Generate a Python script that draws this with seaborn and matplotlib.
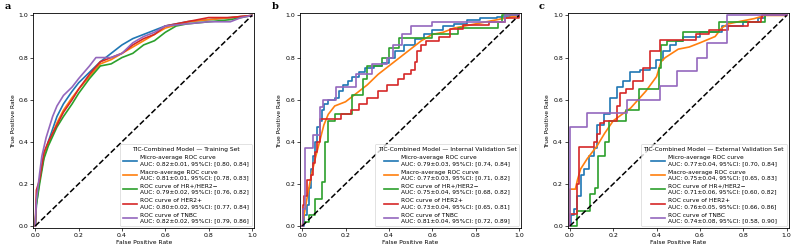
import matplotlib
matplotlib.use("Agg")
import matplotlib.pyplot as plt
import seaborn as sns

# ---- legend text ----
curve_names = ["Micro-average ROC curve", "Macro-average ROC curve",
               "ROC curve of HR+/HER2\u2212", "ROC curve of HER2+", "ROC curve of TNBC"]
panel_titles = ["TIC-Combined Model \u2014 Training Set",
                "TIC-Combined Model \u2014 Internal Validation Set",
                "TIC-Combined Model \u2014 External Validation Set"]
panel_letters = ["a", "b", "c"]

auc_train = [0.82, 0.81, 0.79, 0.80, 0.82]
sd_train = [0.01, 0.01, 0.02, 0.02, 0.02]
ci_lo_train = [0.80, 0.78, 0.76, 0.77, 0.79]
ci_hi_train = [0.84, 0.83, 0.82, 0.84, 0.86]

auc_int = [0.79, 0.77, 0.75, 0.73, 0.81]
sd_int = [0.03, 0.03, 0.04, 0.04, 0.04]
ci_lo_int = [0.74, 0.71, 0.68, 0.65, 0.72]
ci_hi_int = [0.84, 0.82, 0.82, 0.81, 0.89]

auc_ext = [0.77, 0.75, 0.71, 0.76, 0.74]
sd_ext = [0.04, 0.04, 0.06, 0.05, 0.08]
ci_lo_ext = [0.70, 0.65, 0.60, 0.66, 0.58]
ci_hi_ext = [0.84, 0.83, 0.82, 0.86, 0.90]

# ---- training set curves (a) ----
a_micro_fpr = [0, 0.005, 0.02, 0.04, 0.06, 0.1, 0.13, 0.17, 0.2, 0.25, 0.3, 0.35, 0.4, 0.45, 0.5, 0.55, 0.6, 0.7, 0.8, 0.9, 1]
a_micro_tpr = [0, 0.10, 0.22, 0.33, 0.40, 0.52, 0.58, 0.64, 0.68, 0.73, 0.78, 0.82, 0.86, 0.89, 0.91, 0.93, 0.95, 0.97, 0.98, 0.99, 1]
a_macro_fpr = [0, 0.005, 0.02, 0.04, 0.06, 0.1, 0.13, 0.17, 0.2, 0.25, 0.3, 0.35, 0.4, 0.45, 0.5, 0.55, 0.6, 0.7, 0.8, 0.9, 1]
a_macro_tpr = [0, 0.12, 0.22, 0.33, 0.39, 0.49, 0.55, 0.61, 0.65, 0.71, 0.77, 0.79, 0.82, 0.85, 0.88, 0.91, 0.94, 0.97, 0.98, 0.99, 1]
a_hr_fpr = [0, 0.005, 0.02, 0.04, 0.06, 0.1, 0.13, 0.17, 0.2, 0.25, 0.3, 0.35, 0.4, 0.45, 0.5, 0.55, 0.6, 0.65, 0.7, 0.8, 0.9, 1]
a_hr_tpr = [0, 0.10, 0.20, 0.32, 0.38, 0.47, 0.52, 0.58, 0.63, 0.70, 0.76, 0.77, 0.80, 0.82, 0.86, 0.88, 0.92, 0.95, 0.96, 0.97, 0.98, 1]
a_her2_fpr = [0, 0.005, 0.02, 0.04, 0.06, 0.1, 0.13, 0.17, 0.2, 0.25, 0.3, 0.35, 0.4, 0.45, 0.5, 0.55, 0.6, 0.7, 0.8, 0.9, 1]
a_her2_tpr = [0, 0.17, 0.22, 0.35, 0.40, 0.48, 0.54, 0.60, 0.65, 0.72, 0.78, 0.80, 0.82, 0.86, 0.89, 0.91, 0.95, 0.97, 0.99, 0.99, 1]
a_tnbc_fpr = [0, 0.005, 0.02, 0.03, 0.05, 0.08, 0.1, 0.13, 0.17, 0.2, 0.25, 0.28, 0.35, 0.4, 0.45, 0.5, 0.55, 0.6, 0.7, 0.8, 0.9, 0.95, 1]
a_tnbc_tpr = [0, 0.12, 0.25, 0.33, 0.42, 0.52, 0.57, 0.62, 0.66, 0.70, 0.76, 0.80, 0.80, 0.82, 0.87, 0.90, 0.92, 0.95, 0.96, 0.97, 0.97, 0.99, 1]

# ---- internal validation curves (b) ----
b_micro_fpr = [0, 0.01, 0.02, 0.03, 0.04, 0.05, 0.06, 0.07, 0.08, 0.09, 0.1, 0.12, 0.15, 0.17, 0.19, 0.21, 0.23, 0.26, 0.29, 0.33, 0.37, 0.4, 0.43, 0.47, 0.52, 0.56, 0.6, 0.65, 0.7, 0.76, 0.82, 0.9, 0.96, 1]
b_micro_tpr = [0, 0.05, 0.10, 0.18, 0.27, 0.33, 0.40, 0.47, 0.50, 0.55, 0.58, 0.60, 0.61, 0.64, 0.67, 0.69, 0.71, 0.73, 0.75, 0.76, 0.775, 0.80, 0.83, 0.86, 0.89, 0.91, 0.93, 0.95, 0.96, 0.98, 0.99, 0.995, 1, 1]
b_macro_fpr = [0, 0.01, 0.02, 0.04, 0.06, 0.08, 0.1, 0.12, 0.15, 0.2, 0.25, 0.3, 0.35, 0.4, 0.45, 0.5, 0.55, 0.6, 0.65, 0.7, 0.8, 0.9, 1]
b_macro_tpr = [0, 0.06, 0.12, 0.23, 0.32, 0.40, 0.48, 0.53, 0.57, 0.59, 0.63, 0.67, 0.72, 0.76, 0.80, 0.84, 0.88, 0.91, 0.92, 0.94, 0.96, 0.98, 1]
b_hr_fpr = [0, 0.005, 0.03, 0.06, 0.09, 0.105, 0.12, 0.15, 0.217, 0.23, 0.28, 0.3, 0.32, 0.37, 0.4, 0.445, 0.6, 0.72, 0.905, 0.92, 1]
b_hr_tpr = [0, 0.02, 0.05, 0.13, 0.21, 0.40, 0.50, 0.53, 0.53, 0.62, 0.70, 0.76, 0.76, 0.80, 0.845, 0.895, 0.91, 0.94, 0.97, 1, 1]
b_her2_fpr = [0, 0.005, 0.01, 0.02, 0.04, 0.05, 0.06, 0.07, 0.083, 0.18, 0.225, 0.26, 0.3, 0.35, 0.39, 0.44, 0.47, 0.5, 0.52, 0.53, 0.55, 0.57, 0.63, 0.68, 0.74, 0.86, 0.935, 1]
b_her2_tpr = [0, 0.10, 0.14, 0.22, 0.24, 0.30, 0.35, 0.40, 0.51, 0.53, 0.55, 0.58, 0.61, 0.64, 0.67, 0.70, 0.72, 0.74, 0.78, 0.83, 0.86, 0.88, 0.90, 0.935, 0.955, 0.97, 0.99, 1]
b_tnbc_fpr = [0, 0.005, 0.012, 0.05, 0.08, 0.095, 0.155, 0.25, 0.32, 0.39, 0.42, 0.46, 0.5, 0.6, 0.935, 1]
b_tnbc_tpr = [0, 0.08, 0.37, 0.43, 0.565, 0.60, 0.66, 0.72, 0.77, 0.80, 0.86, 0.91, 0.95, 0.97, 1, 1]

# ---- external validation curves (c) ----
c_micro_fpr = [0, 0.003, 0.018, 0.033, 0.049, 0.064, 0.087, 0.11, 0.125, 0.155, 0.186, 0.216, 0.247, 0.277, 0.323, 0.368, 0.399, 0.43, 0.46, 0.49, 0.52, 0.6, 0.7, 0.8, 0.87, 0.9, 1]
c_micro_tpr = [0, 0.05, 0.08, 0.14, 0.24, 0.27, 0.33, 0.37, 0.48, 0.53, 0.61, 0.66, 0.69, 0.73, 0.74, 0.75, 0.79, 0.83, 0.86, 0.88, 0.90, 0.92, 0.95, 0.97, 0.99, 1, 1]
c_macro_fpr = [0, 0, 0.025, 0.035, 0.049, 0.08, 0.125, 0.16, 0.2, 0.24, 0.28, 0.35, 0.4, 0.42, 0.44, 0.5, 0.55, 0.6, 0.67, 0.7, 0.73, 0.8, 0.85, 0.9, 1]
c_macro_tpr = [0, 0.175, 0.175, 0.22, 0.27, 0.32, 0.38, 0.44, 0.50, 0.53, 0.56, 0.64, 0.71, 0.78, 0.80, 0.84, 0.85, 0.87, 0.90, 0.94, 0.96, 0.975, 0.985, 1, 1]
c_hr_fpr = [0, 0.033, 0.094, 0.116, 0.13, 0.16, 0.18, 0.26, 0.32, 0.41, 0.42, 0.45, 0.52, 0.69, 0.9, 1]
c_hr_tpr = [0, 0.07, 0.15, 0.18, 0.33, 0.40, 0.50, 0.55, 0.65, 0.75, 0.86, 0.88, 0.92, 0.97, 1, 1]
c_her2_fpr = [0, 0, 0.033, 0.04, 0.11, 0.125, 0.14, 0.155, 0.216, 0.23, 0.26, 0.292, 0.338, 0.368, 0.414, 0.58, 0.64, 0.73, 0.82, 0.88, 0.885, 1]
c_her2_tpr = [0, 0.055, 0.20, 0.375, 0.40, 0.435, 0.49, 0.50, 0.57, 0.63, 0.65, 0.69, 0.75, 0.83, 0.885, 0.91, 0.93, 0.95, 0.97, 0.99, 1, 1]
c_tnbc_fpr = [0, 0, 0.079, 0.262, 0.414, 0.496, 0.588, 0.633, 0.725, 1]
c_tnbc_tpr = [0, 0.47, 0.535, 0.60, 0.667, 0.737, 0.80, 0.869, 1, 1]

panels = [
    ([(a_micro_fpr, a_micro_tpr), (a_macro_fpr, a_macro_tpr), (a_hr_fpr, a_hr_tpr),
      (a_her2_fpr, a_her2_tpr), (a_tnbc_fpr, a_tnbc_tpr)],
     auc_train, sd_train, ci_lo_train, ci_hi_train, False),
    ([(b_micro_fpr, b_micro_tpr), (b_macro_fpr, b_macro_tpr), (b_hr_fpr, b_hr_tpr),
      (b_her2_fpr, b_her2_tpr), (b_tnbc_fpr, b_tnbc_tpr)],
     auc_int, sd_int, ci_lo_int, ci_hi_int, True),
    ([(c_micro_fpr, c_micro_tpr), (c_macro_fpr, c_macro_tpr), (c_hr_fpr, c_hr_tpr),
      (c_her2_fpr, c_her2_tpr), (c_tnbc_fpr, c_tnbc_tpr)],
     auc_ext, sd_ext, ci_lo_ext, ci_hi_ext, True),
]

colors = sns.color_palette("tab10")[:5]

fig = plt.figure(figsize=(7.98, 2.52), dpi=100)
lefts = [0.0415, 0.376, 0.7115]
for k, (curves, auc, sd, lo, hi, steps) in enumerate(panels):
    ax = fig.add_axes([lefts[k], 0.095, 0.277, 0.852])
    for i, (fpr, tpr) in enumerate(curves):
        lab = f"{curve_names[i]}\nAUC: {auc[i]:.2f}\u00b1{sd[i]:.2f}, 95%CI: [{lo[i]:.2f}, {hi[i]:.2f}]"
        ds = "steps-post" if (steps and i != 1) else "default"
        sns.lineplot(x=fpr, y=tpr, ax=ax, color=colors[i], lw=1.2, sort=False,
                     estimator=None, drawstyle=ds, label=lab)
    sns.lineplot(x=[0, 1], y=[0, 1], ax=ax, color="k", lw=1.1, linestyle="--",
                 sort=False, estimator=None)
    ax.set_xlim(-0.01, 1.01)
    ax.set_ylim(-0.01, 1.01)
    ax.set_xticks([0, 0.2, 0.4, 0.6, 0.8, 1.0])
    ax.set_yticks([0, 0.2, 0.4, 0.6, 0.8, 1.0])
    ax.tick_params(labelsize=4.5, length=2, width=0.5, pad=1.5)
    for s in ax.spines.values():
        s.set_linewidth(0.6)
    ax.set_xlabel("False Positive Rate", fontsize=4.3, labelpad=1.5)
    ax.set_ylabel("True Positive Rate", fontsize=4.3, labelpad=2)
    leg = ax.legend(title=panel_titles[k], loc="lower right", fontsize=4.2,
                    title_fontsize=4.3, handlelength=2.4, labelspacing=0.6,
                    borderaxespad=0.3, handletextpad=0.6, borderpad=0.5)
    leg.get_frame().set_linewidth(0.5)
    fig.text(lefts[k] - 0.036, 0.955, panel_letters[k], fontsize=7,
             fontweight="bold", family="DejaVu Serif", va="bottom")

fig.savefig("out.png", dpi=100)
